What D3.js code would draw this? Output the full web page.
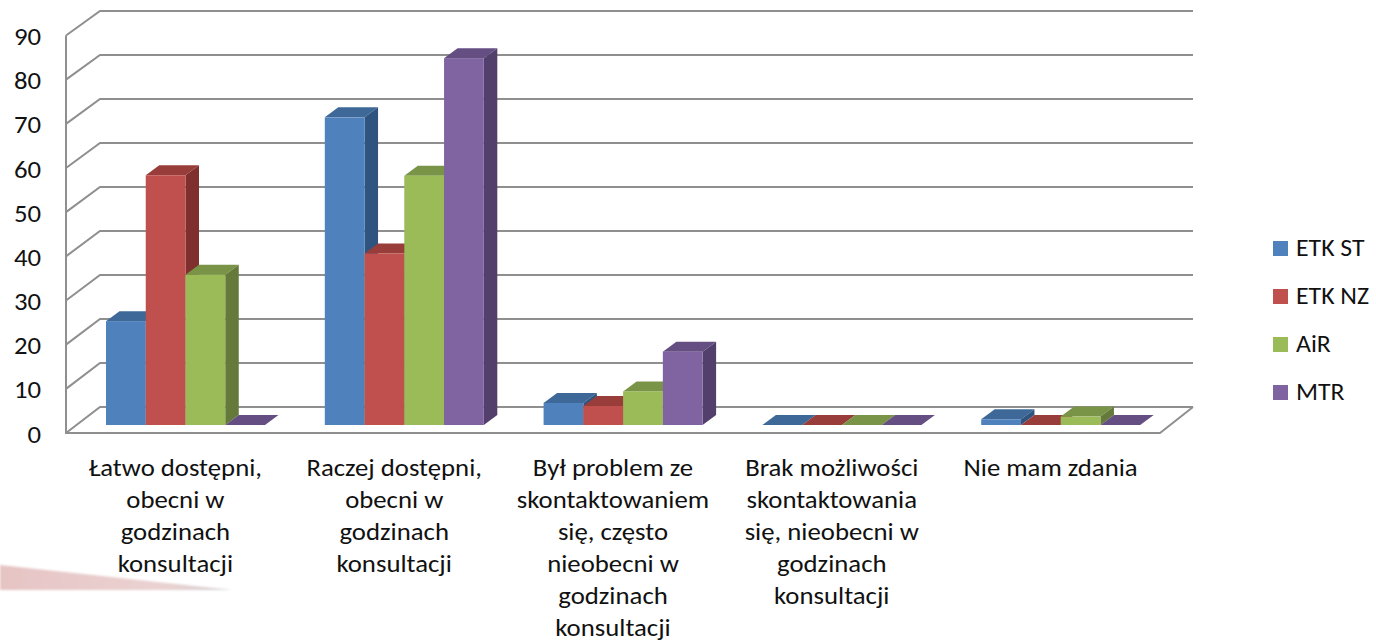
<!DOCTYPE html>
<html><head><meta charset="utf-8">
<script src="https://cdn.jsdelivr.net/npm/d3@7"></script>
<style>html,body{margin:0;padding:0;background:#fff}svg{display:block}text{font-family:Carlito,Lato,"Open Sans",sans-serif;fill:#111}</style>
</head><body><div id="c"></div>
<script>
const categories=[["Łatwo dostępni,","obecni w","godzinach","konsultacji"],["Raczej dostępni,","obecni w","godzinach","konsultacji"],["Był problem ze","skontaktowaniem","się, często","nieobecni w","godzinach","konsultacji"],["Brak możliwości","skontaktowania","się, nieobecni w","godzinach","konsultacji"],["Nie mam zdania"]];
const seriesNames=["ETK ST","ETK NZ","AiR","MTR"];
const etkSt=[23.5,69.6,5,0,1.3];
const etkNz=[56.5,38.8,4.3,0,0];
const air=[34,56.4,7.6,0,1.9];
const mtr=[0,83,16.6,0,0];
const seriesValues=[etkSt,etkNz,air,mtr];
const tickValues=[0,10,20,30,40,50,60,70,80,90];
const front=["#4f81bd","#c0504d","#9bbb59","#8064a2"];
const topC=["#3d6897","#983d3a","#7a9447","#644e82"];
const sideC=["#2f5480","#7f302e","#65793a","#533f6c"];

const W=1376,H=642,dx=13.5,dy=10,fs=24,sx=1.115,sxLeg=1.075;
const svg=d3.select("#c").append("svg").attr("width",W).attr("height",H);
const defs=svg.append("defs");
defs.append("filter").attr("id","soft").append("feGaussianBlur").attr("stdDeviation",1);
const grad=defs.append("linearGradient").attr("id","wedge");
grad.append("stop").attr("offset",0).attr("stop-color","#e6c4c4");
grad.append("stop").attr("offset",.7).attr("stop-color","#ebd2d2");
grad.append("stop").attr("offset",1).attr("stop-color","#d5d2d4");
svg.append("path").attr("d","M0,565L232,590L0,590Z").attr("fill","url(#wedge)").attr("filter","url(#soft)");

const yFront=d3.scaleLinear().domain([0,90]).range([433,35.5]);
const yBack=d3.scaleLinear().domain([0,90]).range([407,11]);
const yBar=d3.scaleLinear().domain([0,90]).range([425,27.2]);
const x0=d3.scaleBand().domain(d3.range(categories.length)).range([66,1160]);
const x1=d3.scaleBand().domain(d3.range(seriesNames.length)).range([40,199]);

const grid=svg.append("g").attr("fill","none").attr("stroke","#8f8f8f").attr("stroke-width",2);
tickValues.forEach(t=>{
  grid.append("path").attr("d",`M66,${yFront(t)}L100,${yBack(t)}L1193,${yBack(t)}`);
});
grid.append("path").attr("d",`M66,${yFront(90)}L66,433L1160,433L1193,407`).attr("stroke-linejoin","miter");

const axis=d3.axisLeft(yFront).tickValues(tickValues).tickSize(0).tickPadding(25).tickFormat(d3.format("d"));
const ag=svg.append("g").attr("transform","translate(66,0)").call(axis);
ag.select(".domain").remove();
ag.selectAll("text").attr("font-size",fs).attr("x",-25/sx).attr("transform",`scale(${sx},1)`).attr("dy","0.38em").style("font-family","Carlito,Lato,sans-serif").style("fill","#111");

const bars=svg.append("g");
categories.forEach((c,i)=>{
  seriesNames.forEach((s,j)=>{
    const v=seriesValues[j][i],x=x0(i)+x1(j),w=x1.bandwidth(),y=yBar(v),b=yBar(0);
    const g=bars.append("g");
    g.append("path").attr("fill",topC[j]).attr("d",`M${x},${y}L${x+w},${y}L${x+w+dx},${y-dy}L${x+dx},${y-dy}Z`);
    if(v>0){
      g.append("path").attr("fill",sideC[j]).attr("d",`M${x+w},${y}L${x+w+dx},${y-dy}L${x+w+dx},${b-dy}L${x+w},${b}Z`);
      g.append("rect").attr("x",x).attr("y",y).attr("width",w).attr("height",b-y).attr("fill",front[j]);
    }
  });
});

const labels=svg.append("g").attr("font-size",fs).attr("text-anchor","middle").attr("transform",`scale(${sx},1)`);
categories.forEach((c,i)=>{
  const cx=(x0(i)+x0.bandwidth()/2)/sx;
  const t=labels.append("text");
  c.forEach((l,k)=>t.append("tspan").attr("x",cx).attr("y",476+k*32).text(l));
});

const ly=d3.scalePoint().domain(seriesNames).range([248.5,392.5]);
const leg=svg.append("g");
seriesNames.forEach((s,j)=>{
  leg.append("rect").attr("x",1273).attr("y",ly(s)-7.5).attr("width",15).attr("height",15).attr("fill",front[j]);
  leg.append("text").attr("transform",`scale(${sxLeg},1)`).attr("x",1296/sxLeg).attr("y",ly(s)+8).attr("font-size",fs).text(s);
});
</script></body></html>
